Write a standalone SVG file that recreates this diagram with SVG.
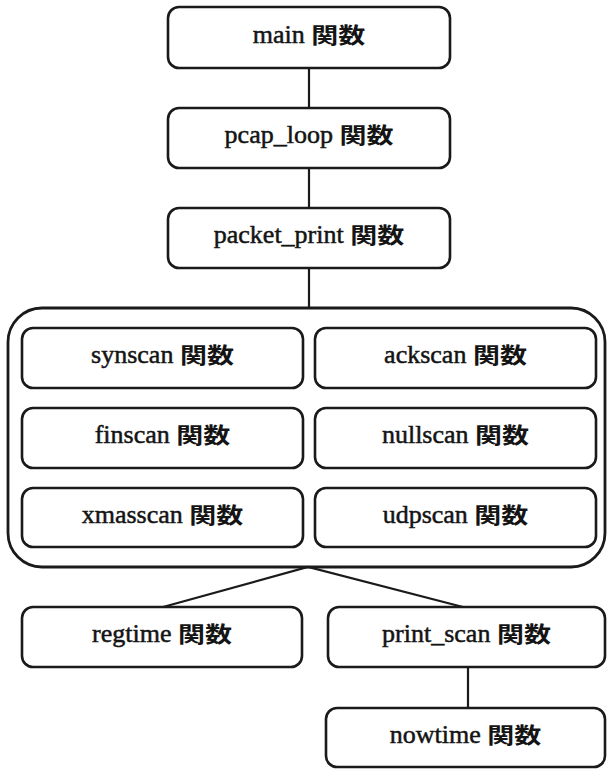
<svg xmlns="http://www.w3.org/2000/svg" width="607" height="769" viewBox="0 0 607 769">
  <style>
    .box { fill: #ffffff; stroke: #1a1a1a; stroke-width: 2.6; }
    .frame { fill: none; stroke: #1a1a1a; stroke-width: 2.8; }
    .link { fill: none; stroke: #1a1a1a; stroke-width: 2.2; }
    .lbl { font-family: "Liberation Serif", "Times New Roman", serif; font-size: 26px; fill: #141414; stroke: #141414; stroke-width: 0.5; text-anchor: middle; }
    .k { font-family: "Noto Sans CJK JP", "Noto Sans CJK SC", sans-serif; font-size: 22px; font-weight: bold; stroke-width: 0; }
  </style>
  <rect width="607" height="769" fill="#ffffff"/>

  <!-- call links -->
  <g id="connectors">
    <line class="link" x1="309" y1="68" x2="309" y2="108"/>
    <line class="link" x1="309" y1="168" x2="309" y2="208"/>
    <line class="link" x1="309" y1="268" x2="309" y2="308"/>
    <polyline class="link" points="163,607 308,567 463,607"/>
    <line class="link" x1="468" y1="667" x2="468" y2="708"/>
  </g>

  <g id="main">
    <rect class="box" x="168" y="7" width="282" height="61" rx="11"/>
    <text class="lbl" x="309" y="42.5">main <tspan class="k" textLength="54" lengthAdjust="spacingAndGlyphs">関数</tspan></text>
  </g>
  <g id="pcap_loop">
    <rect class="box" x="168" y="108" width="282" height="60" rx="11"/>
    <text class="lbl" x="309" y="143">pcap_loop <tspan class="k" textLength="54" lengthAdjust="spacingAndGlyphs">関数</tspan></text>
  </g>
  <g id="packet_print">
    <rect class="box" x="168" y="208" width="282" height="60" rx="11"/>
    <text class="lbl" x="309" y="243">packet_print <tspan class="k" textLength="54" lengthAdjust="spacingAndGlyphs">関数</tspan></text>
  </g>

  <!-- scan handler group -->
  <g id="scan_group">
    <rect class="frame" x="8" y="308" width="597" height="259" rx="34"/>
    <g id="synscan">
      <rect class="box" x="22" y="328" width="281" height="60" rx="11"/>
      <text class="lbl" x="162.5" y="363">synscan <tspan class="k" textLength="54" lengthAdjust="spacingAndGlyphs">関数</tspan></text>
    </g>
    <g id="ackscan">
      <rect class="box" x="315" y="328" width="281" height="60" rx="11"/>
      <text class="lbl" x="455.5" y="363">ackscan <tspan class="k" textLength="54" lengthAdjust="spacingAndGlyphs">関数</tspan></text>
    </g>
    <g id="finscan">
      <rect class="box" x="22" y="408" width="281" height="60" rx="11"/>
      <text class="lbl" x="162.5" y="443">finscan <tspan class="k" textLength="54" lengthAdjust="spacingAndGlyphs">関数</tspan></text>
    </g>
    <g id="nullscan">
      <rect class="box" x="315" y="408" width="281" height="60" rx="11"/>
      <text class="lbl" x="455.5" y="443">nullscan <tspan class="k" textLength="54" lengthAdjust="spacingAndGlyphs">関数</tspan></text>
    </g>
    <g id="xmasscan">
      <rect class="box" x="22" y="488" width="281" height="59" rx="11"/>
      <text class="lbl" x="162.5" y="522.5">xmasscan <tspan class="k" textLength="54" lengthAdjust="spacingAndGlyphs">関数</tspan></text>
    </g>
    <g id="udpscan">
      <rect class="box" x="315" y="488" width="281" height="59" rx="11"/>
      <text class="lbl" x="455.5" y="522.5">udpscan <tspan class="k" textLength="54" lengthAdjust="spacingAndGlyphs">関数</tspan></text>
    </g>
  </g>

  <g id="regtime">
    <rect class="box" x="22" y="607" width="280" height="60" rx="11"/>
    <text class="lbl" x="162" y="642">regtime <tspan class="k" textLength="54" lengthAdjust="spacingAndGlyphs">関数</tspan></text>
  </g>
  <g id="print_scan">
    <rect class="box" x="328" y="607" width="277" height="60" rx="11"/>
    <text class="lbl" x="466.5" y="642">print_scan <tspan class="k" textLength="54" lengthAdjust="spacingAndGlyphs">関数</tspan></text>
  </g>
  <g id="nowtime">
    <rect class="box" x="326" y="708" width="279" height="59" rx="11"/>
    <text class="lbl" x="465.5" y="742.5">nowtime <tspan class="k" textLength="54" lengthAdjust="spacingAndGlyphs">関数</tspan></text>
  </g>
</svg>
